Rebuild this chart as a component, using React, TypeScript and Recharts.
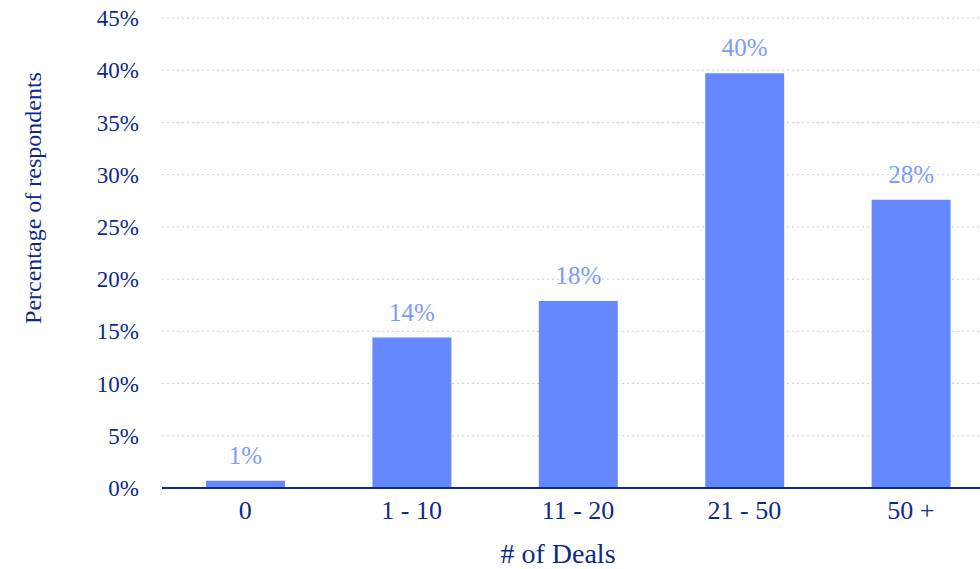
import { BarChart, Bar, XAxis, YAxis, CartesianGrid, LabelList } from 'recharts';

const CATEGORIES = ['0', '1 - 10', '11 - 20', '21 - 50', '50 +'];
const SHARES = [0.7, 14.4, 17.9, 39.7, 27.6];
const Y_TICKS = [0, 5, 10, 15, 20, 25, 30, 35, 40, 45];

const FONT = '"Liberation Serif", "Times New Roman", serif';
const NAVY = '#0d2a8a';

const chartData = CATEGORIES.map((label, i) => ({ label, share: SHARES[i] }));

export default function App() {
  // the plot runs a little past the right edge in the original, so clip it
  return (
    <div style={{ position: 'absolute', left: 0, top: 0, width: 980, height: 569, overflow: 'hidden', fontFamily: FONT }}>
      <BarChart
        width={994}
        height={569}
        data={chartData}
        margin={{ top: 18, right: 0, bottom: 0, left: 0 }}
        barSize={79}
      >
        <CartesianGrid vertical={false} stroke="#cfcfcf" strokeDasharray="2 3" />
        <XAxis
          dataKey="label"
          height={81}
          axisLine={{ stroke: NAVY, strokeWidth: 2 }}
          tickLine={false}
          tickSize={0}
          tickMargin={13}
          tick={{ fontSize: 26, fill: NAVY, fontFamily: FONT }}
          label={{ value: '# of Deals', position: 'insideBottom', offset: 6, dx: -20, fontSize: 28, fill: NAVY, fontFamily: FONT }}
        />
        <YAxis
          width={162}
          domain={[0, 45]}
          ticks={Y_TICKS}
          interval={0}
          axisLine={false}
          tickLine={false}
          tickSize={0}
          tickMargin={23}
          tickFormatter={(v: number) => `${v}%`}
          tick={{ fontSize: 23, fill: NAVY, fontFamily: FONT }}
          label={{ value: 'Percentage of respondents', angle: -90, position: 'insideLeft', offset: 32, dy: -55, fontSize: 24, fill: NAVY, fontFamily: FONT, style: { textAnchor: 'middle' } }}
        />
        <Bar dataKey="share" fill="#6688ff" isAnimationActive={false}>
          <LabelList
            dataKey="share"
            position="top"
            offset={17}
            formatter={(v: number) => `${Math.round(v)}%`}
            style={{ fontSize: 25, fill: '#7b9bff', fontFamily: FONT }}
          />
        </Bar>
      </BarChart>
    </div>
  );
}
